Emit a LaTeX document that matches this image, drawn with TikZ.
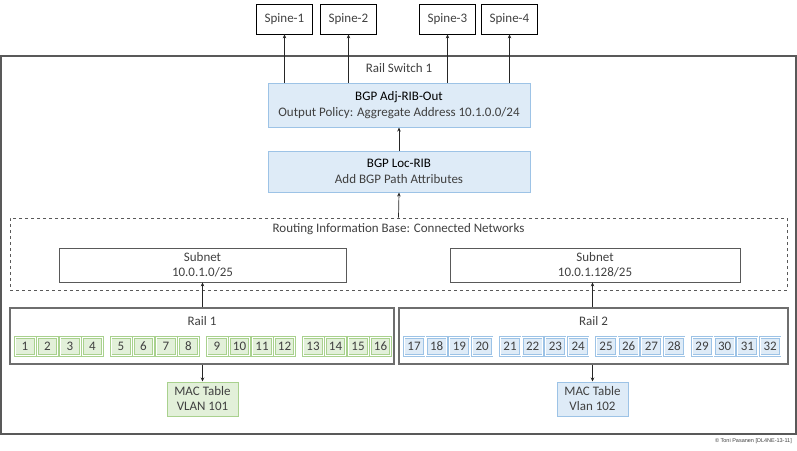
\documentclass[tikz,border=0pt]{standalone}
\usepackage{fontspec}
\setmainfont{Carlito}
\newfontfamily\creditfont{Liberation Sans}
\usetikzlibrary{arrows.meta, positioning}
\definecolor{ribBlue}{RGB}{222,235,247}
\definecolor{ribBlueLine}{RGB}{157,195,230}
\definecolor{vlanGreen}{RGB}{226,240,217}
\definecolor{vlanGreenLine}{RGB}{169,209,142}
\definecolor{frameGray}{RGB}{89,89,89}
\definecolor{railGray}{RGB}{110,110,110}
\definecolor{textGray}{RGB}{64,64,64}
\tikzset{
    every node/.style={text=textGray},
    spinebox/.style={
        rectangle,
        draw=black,
        line width=0.7pt,
        minimum width=56pt,
        minimum height=30pt,
        font=\fontsize{13}{15}\selectfont
    },
    ribbox/.style={
        rectangle,
        draw=ribBlueLine,
        line width=1pt,
        fill=ribBlue,
        align=center,
        minimum width=262pt,
        font=\fontsize{13}{16}\selectfont
    },
    subnetbox/.style={
        rectangle,
        draw=frameGray,
        line width=0.8pt,
        align=center,
        minimum height=34pt,
        font=\fontsize{13}{15}\selectfont
    },
    railbox/.style={
        rectangle,
        draw=railGray,
        line width=1.6pt,
        minimum height=56pt
    },
    greenport/.style={
        rectangle,
        draw=vlanGreenLine,
        line width=0.8pt,
        double=white,
        double distance=0.5pt,
        fill=vlanGreen,
        minimum width=20pt,
        minimum height=18pt,
        inner sep=0.5pt,
        font=\fontsize{13}{14}\selectfont
    },
    blueport/.style={greenport, draw=ribBlueLine, fill=ribBlue},
    greenmac/.style={
        rectangle,
        draw=vlanGreenLine,
        line width=1pt,
        fill=vlanGreen,
        align=center,
        minimum width=71pt,
        minimum height=34pt,
        font=\fontsize{13}{15}\selectfont
    },
    bluemac/.style={greenmac, draw=ribBlueLine, fill=ribBlue},
    boxlabel/.style={font=\fontsize{13}{15}\selectfont, inner sep=0pt},
    uparrow/.style={-{Stealth[length=4pt, width=3.5pt]}, line width=0.7pt, draw=black!85}
}

\begin{document}
\begin{tikzpicture}[x=1pt, y=-1pt]
    \useasboundingbox (0,0) rectangle (797,450);

    % spines
    \node[spinebox] (sp1) at (284.5,19) {Spine-1};
    \node[spinebox] (sp2) at (348.5,19) {Spine-2};
    \node[spinebox] (sp3) at (447.5,19) {Spine-3};
    \node[spinebox] (sp4) at (509.5,19) {Spine-4};

    % rail switch frame
    \node[draw=frameGray, line width=1.2pt, minimum width=795pt, minimum height=378pt] (switch) at (398.5,245) {};
    \node[boxlabel] (switchlbl) at (399,68) {Rail Switch 1};

    \node[ribbox, minimum height=44pt] (adjout) at (399,105) {\textcolor{black}{BGP Adj-RIB-Out}\\
    Output Policy: Aggregate Address 10.1.0.0/24};
    \node[ribbox, minimum height=41pt] (locrib) at (399,171.5) {\textcolor{black}{BGP Loc-RIB}\\
    Add BGP Path Attributes};

    % connected networks
    \node[draw=frameGray, dashed, line width=0.8pt, minimum width=777pt, minimum height=72pt] (rib) at (398.5,254) {};
    \node[boxlabel] (riblbl) at (398.5,229) {Routing Information Base: Connected Networks};
    \node[subnetbox, minimum width=287pt] (subnet1) at (202.5,265) {Subnet\\10.0.1.0/25};
    \node[subnetbox, minimum width=290pt] (subnet2) at (595,265) {Subnet\\10.0.1.128/25};

    % rails
    \node[railbox, minimum width=384pt] (rail1) at (202,336) {};
    \node[boxlabel] (rail1lbl) at (202,321) {Rail 1};
    \node[railbox, minimum width=389pt] (rail2) at (593.5,336) {};
    \node[boxlabel] (rail2lbl) at (593.5,321) {Rail 2};

    \foreach \i [evaluate=\i as \px using {25+96*int((\i-1)/4)+22.5*mod(\i-1,4)}] in {1,...,16}
        \node[greenport] (port\i) at (\px,346.5) {\i};
    \foreach \i [evaluate=\i as \px using {414+96*int((\i-17)/4)+22.7*mod(\i-17,4)}] in {17,...,32}
        \node[blueport] (port\i) at (\px,346.5) {\i};

    \node[greenmac] (mac1) at (202.5,399) {MAC Table\\VLAN 101};
    \node[bluemac] (mac2) at (592.5,399) {MAC Table\\Vlan 102};

    \node[font=\creditfont\fontsize{5.5}{6}\selectfont, anchor=east, inner sep=0pt] (credit) at (792,441) {© Toni Pasanen [DL4NE-13-11]};

    \draw[uparrow] (adjout.north -| sp1.south) -- (sp1.south);
    \draw[uparrow] (adjout.north -| sp2.south) -- (sp2.south);
    \draw[uparrow] (adjout.north -| sp3.south) -- (sp3.south);
    \draw[uparrow] (adjout.north -| sp4.south) -- (sp4.south);
    \draw[uparrow] (locrib.north) -- (adjout.south);
    \draw[uparrow] (rib.north) -- (locrib.south);
    \draw[uparrow] (rail1.north -| subnet1.south) -- (subnet1.south);
    \draw[uparrow] (rail2.north -| mac2.north) -- (subnet2.south -| mac2.north);
    \draw[uparrow] (rail1.south -| mac1.north) -- (mac1.north);
    \draw[uparrow] (rail2.south -| mac2.north) -- (mac2.north);
\end{tikzpicture}
\end{document}
